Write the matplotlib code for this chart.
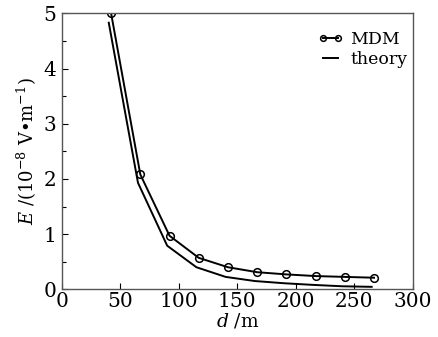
import matplotlib
matplotlib.use("Agg")
import matplotlib.pyplot as plt
from matplotlib.ticker import MultipleLocator

plt.rcParams['font.family'] = ['DejaVu Serif']
plt.rcParams['mathtext.fontset'] = 'dejavuserif'

d_mdm = [42, 67, 92, 117, 142, 167, 192, 217, 242, 267]
E_mdm = [5.0, 2.08, 0.97, 0.57, 0.40, 0.31, 0.27, 0.24, 0.225, 0.21]
d_theory = [40, 65, 90, 115, 140, 165, 190, 215, 240, 265]
E_theory = [4.83, 1.93, 0.79, 0.40, 0.225, 0.15, 0.11, 0.08, 0.055, 0.045]

fig = plt.figure(figsize=(4.38, 3.37), dpi=100)
ax = fig.add_axes([0.1416, 0.1415, 0.8004, 0.819])

ax.plot(d_mdm, E_mdm, '-o', color='black', lw=1.4, ms=5.5, mfc='none', mew=1.1, label='MDM')
ax.plot(d_theory, E_theory, '-', color='black', lw=1.4, label='theory')

ax.set_xlim(0, 300)
ax.set_ylim(0, 5)
ax.xaxis.set_major_locator(MultipleLocator(50))
ax.yaxis.set_major_locator(MultipleLocator(1))
ax.yaxis.set_minor_locator(MultipleLocator(0.5))
ax.tick_params(direction='in', labelsize=14.5, length=4, width=0.8, top=False, right=False)
ax.tick_params(axis='x', pad=2)
ax.tick_params(axis='y', pad=4)
ax.tick_params(which='minor', direction='in', length=3, width=0.8)
for s in ax.spines.values():
    s.set_color('#555555')
    s.set_linewidth(1.0)

ax.set_xlabel('$d$ /m', fontsize=13.5, labelpad=0)
ax.set_ylabel('$E$ /(10$^{-8}$ V•m$^{-1}$)', fontsize=13, labelpad=3)

ax.legend(loc='upper right', bbox_to_anchor=(1.015, 0.975), frameon=False, fontsize=12.5,
          handlelength=1.5, handletextpad=0.4, borderaxespad=0.2, labelspacing=0.2,
          numpoints=2, markerscale=0.75)

fig.savefig('out.png', dpi=100)
